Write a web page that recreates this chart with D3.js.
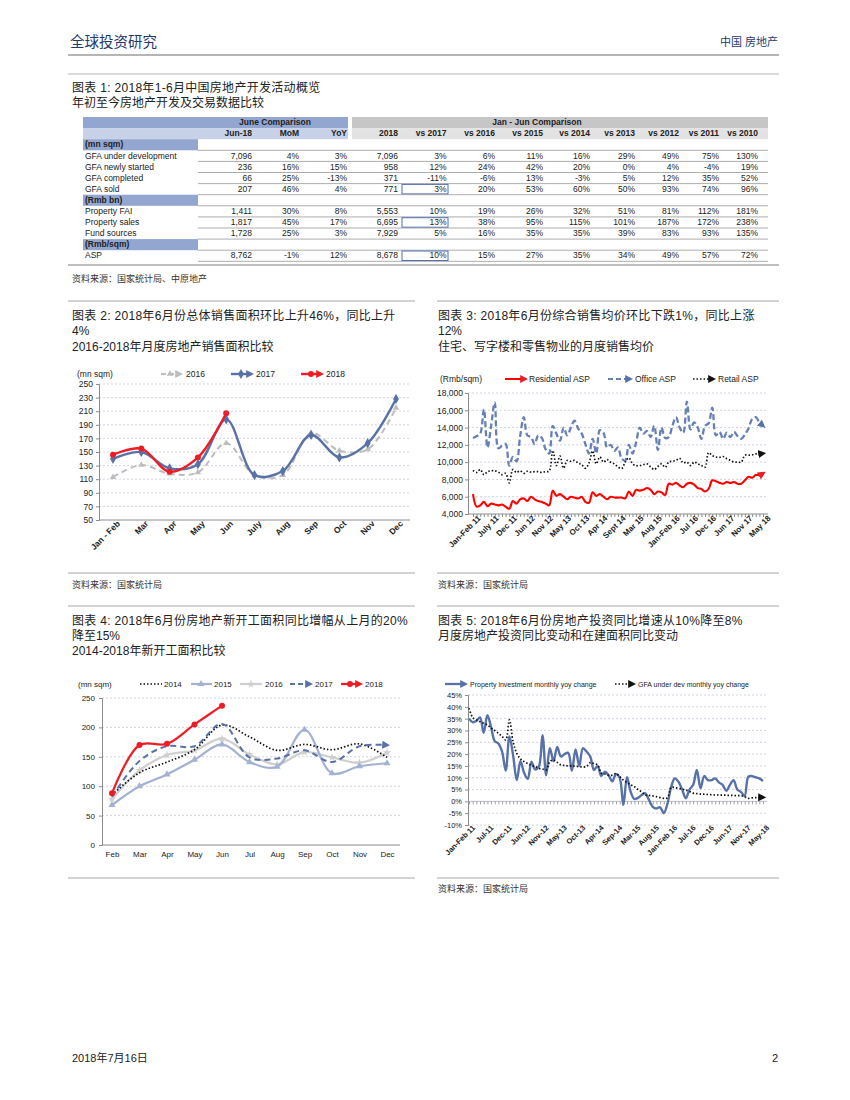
<!DOCTYPE html>
<html><head><meta charset="utf-8">
<script src="https://cdn.jsdelivr.net/npm/d3@7"></script>
<style>
body{margin:0;background:#fff;}
svg{display:block;font-family:"Liberation Sans",Arial,"Noto Sans CJK SC",sans-serif;}
</style></head><body>
<svg id="page" width="850" height="1100"></svg>
<script>
// ================= DATA =================
// Table (图表 1)
const junHeaders = ['Jun-18','MoM','YoY'];
const ytdHeaders = ['2018','vs 2017','vs 2016','vs 2015','vs 2014','vs 2013','vs 2012','vs 2011','vs 2010'];
const tableLabels = ['(mn sqm)','GFA under development','GFA newly started','GFA completed','GFA sold','(Rmb bn)','Property FAI','Property sales','Fund sources','(Rmb/sqm)','ASP'];
const sectionRows = ['(mn sqm)','(Rmb bn)','(Rmb/sqm)'];
const junValues = [null,['7,096','4%','3%'],['236','16%','15%'],['66','25%','-13%'],['207','46%','4%'],null,['1,411','30%','8%'],['1,817','45%','17%'],['1,728','25%','3%'],null,['8,762','-1%','12%']];
const ytdValues = [null,
 ['7,096','3%','6%','11%','16%','29%','49%','75%','130%'],
 ['958','12%','24%','42%','20%','0%','4%','-4%','19%'],
 ['371','-11%','-6%','13%','-3%','5%','12%','35%','52%'],
 ['771','3%','20%','53%','60%','50%','93%','74%','96%'],
 null,
 ['5,553','10%','19%','26%','32%','51%','81%','112%','181%'],
 ['6,695','13%','38%','95%','115%','101%','187%','172%','238%'],
 ['7,929','5%','16%','35%','35%','39%','83%','93%','135%'],
 null,
 ['8,678','10%','15%','27%','35%','34%','49%','57%','72%']];
const boxedRows = ['GFA sold','Property sales','ASP'];

// Chart 2
const months2 = ['Jan - Feb','Mar','Apr','May','Jun','July','Aug','Sep','Oct','Nov','Dec'];
const sales2016 = [113,131,118,120,163,116,116,178,152,154,215];
const sales2017 = [140,150,126,132,198,116,122,175,142,163,228];
const sales2018 = [146,155,121,142,207];
const ticks2 = [50,70,90,110,130,150,170,190,210,230,250];

// Chart 3 (Jan-Feb 11 ... May 18, 81 points)
const ticks3Labels = ['Jan-Feb 11','July 11','Dec 11','Jun 12','Nov 12','May 13','Oct 13','Apr 14','Sept 14','Mar 15','Aug 15','Jan-Feb 16','Jul 16','Dec 16','Jun 17','Nov 17','May 18'];
const resASP = [6300,4850,5000,5400,4900,5200,5100,5000,5100,4850,
 4600,5500,5200,5700,5800,5500,6000,5700,5500,5400,
 5200,5000,6700,6100,6300,6000,5700,6000,5900,5800,
 6000,5400,5300,6500,6100,6300,6000,5700,6000,5900,
 5900,5900,5800,6600,6100,6800,6700,6800,7000,6800,
 6300,6600,6500,6200,7500,7400,7600,7300,7100,7500,
 7600,7400,7000,6900,6600,6900,7900,7800,7600,7500,
 7700,7600,7700,7500,7500,7900,8300,8200,8500,8500,
 8700];
const officeASP = [12800,13000,13300,16100,11700,14200,16900,11600,11900,12100,
 9600,10600,10100,13000,15200,13100,12900,12100,13100,12800,
 11500,11000,14200,13300,12500,14000,13100,14000,14800,13900,
 13300,12100,11000,12700,11000,13700,13400,11700,12000,11300,
 11700,10400,10200,12000,11000,12300,14000,13300,13600,12900,
 14200,11400,14000,12800,12900,14200,15200,14000,13400,17000,
 13800,14600,14000,12700,14200,14500,16300,13100,13500,12700,
 13400,12900,13500,13000,12700,13200,13900,15000,15200,14600,
 14200];
const retailASP = [9050,8800,9150,8550,8900,9000,9000,8850,8550,8700,
 7600,9150,8800,9000,8700,8950,8850,8900,8900,8800,
 8900,8950,11350,9600,10700,9300,10200,10100,10200,9900,
 9700,9300,9900,11300,9800,10600,10000,10300,10000,9800,
 9450,9250,10000,10500,9800,9600,9600,9700,9800,9450,
 9150,9500,9800,9400,10000,10100,10200,10450,9900,10000,
 9600,10000,9800,9600,9400,11100,10750,10600,10550,10650,
 10400,10200,10000,10000,10000,10800,10800,10850,10950,10950,
 11000];
const ticks3 = [4000,6000,8000,10000,12000,14000,16000,18000];

// Chart 4
const months4 = ['Feb','Mar','Apr','May','Jun','Jul','Aug','Sep','Oct','Nov','Dec'];
const start2014 = [85,123,141,162,204,184,161,171,162,172,149];
const start2015 = [68,100,120,145,171,141,133,196,122,134,139];
const start2016 = [78,127,153,161,181,154,137,158,149,140,157];
const start2017 = [82,143,168,168,206,149,147,161,141,168,170];
const start2018 = [88,170,172,205,237];
const ticks4 = [0,50,100,150,200,250];

// Chart 5 (Jan-Feb 11 ... May 18, 81 points)
const ticks5Labels = ['Jan-Feb 11','Jul-11','Dec-11','Jun-12','Nov-12','May-13','Oct-13','Apr-14','Sep-14','Mar-15','Aug-15','Jan-Feb 16','Jul-16','Dec-16','Jun-17','Nov-17','May-18'];
const investYoy = [35,33.5,34,35.5,29,36.5,31.5,25.5,24.5,21,
 13,27.5,19.5,9,17,12,9.5,16.8,13.5,14.7,
 28,11,22.5,17,23,19,20,20.5,13,22,
 15,22.5,21,19,13.3,15,10.8,12.5,11,8.5,
 11.5,10,-1.5,10.2,4,1,1.5,2.7,3.4,0.5,
 -2.3,-3,-2.5,-5,-1,6,9.7,8.3,5,1.3,
 5,7,13.3,5.5,10.7,9,9,9.7,8,7,
 4.5,7,9,5,4,2.3,10.4,10.7,10.2,9.7,
 8.6];
const gfaYoy = [39.4,35.5,34.5,33.7,33,32.3,31,30,28.8,27.5,
 26,34.5,25.2,20.3,18,16.8,16,15.2,14.7,14,
 13.7,13.3,16.8,17.5,16.5,15.4,15.2,15,15,14.8,
 14.7,14.5,14.8,16.4,16,15.4,12,11.6,11,11.1,
 11.8,10.5,9,8,7,6.2,5,4,2.7,2.5,
 2.3,2,1.6,1.3,1.5,5.9,5.8,5.5,5.2,4.8,
 4.2,3.5,3.3,3.1,3,2.9,2.8,2.7,2.7,2.6,
 2.6,2.5,2.5,2.4,2.4,2,1.3,1.5,1.6,1.7,
 1.7];
const ticks5 = [-10,-5,0,5,10,15,20,25,30,35,40,45];

// ================= DRAWING =================
const svg = d3.select('#page');
svg.append('rect').attr('width',850).attr('height',1100).attr('fill','#fff');
const defs = svg.append('defs');
function arrowDef(id,color,size){
  defs.append('marker').attr('id',id).attr('viewBox','0 0 10 10').attr('refX',6).attr('refY',5)
    .attr('markerWidth',size).attr('markerHeight',size).attr('markerUnits','userSpaceOnUse').attr('orient','auto')
    .append('path').attr('d','M0,0L10,5L0,10z').attr('fill',color);
}
const RED='#ee1c25', BLUE='#5872a8', GRAY='#bdbdbd', LBLUE='#a4b2d2', LGRAY='#cfcfcf', GRID='#c3c9da';
arrowDef('aRed',RED,8); arrowDef('aBlue',BLUE,8); arrowDef('aBlk','#111',8); arrowDef('aGray',GRAY,8); arrowDef('aLBlue',LBLUE,7);

function txt(g,x,y,s,o={}){
  const t = g.append('text').attr('x',x).attr('y',y).text(s)
   .attr('font-size',o.size||12).attr('fill',o.fill||'#222')
   .attr('text-anchor',o.anchor||'start').attr('font-weight',o.weight||'normal');
  if(o.ls) t.attr('letter-spacing',o.ls);
  return t;
}
function hline(g,x1,x2,y,color,w,dash){
  const l=g.append('line').attr('x1',x1).attr('x2',x2).attr('y1',y).attr('y2',y).attr('stroke',color).attr('stroke-width',w);
  if(dash) l.attr('stroke-dasharray',dash);
  return l;
}

// ---- page furniture ----
const T = {size:12, ls:0.3};
txt(svg,70,47,'全球投资研究',{size:14.5,fill:'#1f3a6e'});
txt(svg,778,46,'中国 房地产',{size:11,fill:'#1f3a6e',anchor:'end'});
hline(svg,68,779,55,'#9c9c9c',1.3);
hline(svg,68,779,74,'#b5b5b5',1);
txt(svg,72,92,'图表 1: 2018年1-6月中国房地产开发活动概览',T);
txt(svg,72,107,'年初至今房地产开发及交易数据比较',{size:12});
hline(svg,68,779,265,'#a8a8a8',1.5);
txt(svg,72,282,'资料来源：国家统计局、中原地产',{size:9,fill:'#333'});

hline(svg,68,415,301,'#a8a8a8',1.2); hline(svg,437,779,301,'#a8a8a8',1.2);
txt(svg,72,320,'图表 2: 2018年6月份总体销售面积环比上升46%，同比上升',T);
txt(svg,72,335,'4%',{size:12});
txt(svg,72,351,'2016-2018年月度房地产销售面积比较',{size:12});
txt(svg,438,320,'图表 3: 2018年6月份综合销售均价环比下跌1%，同比上涨',T);
txt(svg,438,335,'12%',{size:12});
txt(svg,438,351,'住宅、写字楼和零售物业的月度销售均价',{size:12});
hline(svg,68,415,573,'#a8a8a8',1.2); hline(svg,437,779,573,'#a8a8a8',1.2);
txt(svg,72,588,'资料来源：国家统计局',{size:9,fill:'#333'});
txt(svg,438,588,'资料来源：国家统计局',{size:9,fill:'#333'});
hline(svg,68,415,606,'#a8a8a8',1.2); hline(svg,437,779,606,'#a8a8a8',1.2);
txt(svg,72,625,'图表 4: 2018年6月份房地产新开工面积同比增幅从上月的20%',T);
txt(svg,72,640,'降至15%',{size:12});
txt(svg,72,655,'2014-2018年新开工面积比较',{size:12});
txt(svg,438,625,'图表 5: 2018年6月份房地产投资同比增速从10%降至8%',T);
txt(svg,438,640,'月度房地产投资同比变动和在建面积同比变动',{size:12});
hline(svg,68,415,878,'#a8a8a8',1.2); hline(svg,437,779,878,'#a8a8a8',1.2);
txt(svg,438,892,'资料来源：国家统计局',{size:9,fill:'#333'});
txt(svg,72,1062,'2018年7月16日',{size:11});
txt(svg,778,1062,'2',{size:11,anchor:'end'});

// ---- Table ----
(function(){
  const g = svg.append('g');
  const x0=83, xLab=198, xJun=348, xYtd=352, x1=768, top=117, rh=11.1;
  const junRight=[252,299,347], ytdRight=[398,446.5,495,543,590,635,679,719,758];
  const FS=8.5;
  g.append('rect').attr('x',x0).attr('y',top).attr('width',xJun-x0).attr('height',rh).attr('fill','#93a6d0');
  g.append('rect').attr('x',x0).attr('y',top+rh).attr('width',xJun-x0).attr('height',rh).attr('fill','#c7d1e8');
  g.append('rect').attr('x',xYtd).attr('y',top).attr('width',x1-xYtd).attr('height',rh).attr('fill','#c6c6c6');
  g.append('rect').attr('x',xYtd).attr('y',top+rh).attr('width',x1-xYtd).attr('height',rh).attr('fill','#e3e3e3');
  txt(g,275,top+8.2,'June Comparison',{size:FS,weight:'bold',anchor:'middle'});
  txt(g,537,top+8.2,'Jan - Jun Comparison',{size:FS,weight:'bold',anchor:'middle'});
  junHeaders.forEach((h,i)=>txt(g,junRight[i],top+rh+8.2,h,{size:FS,weight:'bold',anchor:'end'}));
  ytdHeaders.forEach((h,i)=>txt(g,ytdRight[i],top+rh+8.2,h,{size:FS,weight:'bold',anchor:'end'}));
  tableLabels.forEach((lab,i)=>{
    const y = top+(i+2)*rh;
    if(sectionRows.includes(lab)){
      g.append('rect').attr('x',x0).attr('y',y).attr('width',xLab-x0).attr('height',rh).attr('fill','#93a6d0');
      txt(g,85,y+8.2,lab,{size:FS,weight:'bold'});
    } else {
      txt(g,85,y+8.2,lab,{size:FS});
      junValues[i].forEach((v,j)=>txt(g,junRight[j],y+8.2,v,{size:FS,anchor:'end'}));
      ytdValues[i].forEach((v,j)=>txt(g,ytdRight[j],y+8.2,v,{size:FS,anchor:'end'}));
      if(boxedRows.includes(lab)){
        g.append('rect').attr('x',402).attr('y',y+0.8).attr('width',46).attr('height',rh-1.6)
          .attr('fill','none').attr('stroke','#4f6fb3').attr('stroke-width',1);
      }
    }
    hline(g,xLab,x1,y+rh,'#8a8a8a',0.7);
  });
})();

function styleAxis(sel,fs){
  sel.selectAll('.domain').attr('stroke','#8c8c8c');
  sel.selectAll('.tick line').attr('stroke','#8c8c8c');
  sel.selectAll('text').attr('font-size',fs).attr('fill','#222').attr('font-family','"Liberation Sans",Arial,sans-serif');
}

// ---- Chart 2 ----
(function(){
  const g = svg.append('g');
  const x = d3.scalePoint().domain(months2).range([113,396]);
  const y = d3.scaleLinear().domain([50,250]).range([520,384]);
  ticks2.slice(1).forEach(t=>hline(g,99,410,y(t),GRID,0.8,'2,2'));
  const ya = g.append('g').attr('transform','translate(99,0)').call(d3.axisLeft(y).tickValues(ticks2).tickSize(3).tickPadding(3));
  styleAxis(ya,8.5);
  hline(g,99,410,520,'#8c8c8c',1);
  const xa = g.append('g').attr('transform','translate(0,520)').call(d3.axisBottom(x).tickSize(0));
  xa.select('.domain').remove();
  styleAxis(xa,8.5);
  xa.selectAll('text').attr('font-weight','bold').attr('text-anchor','end').attr('x',2).attr('y',5).attr('dy','0.35em').attr('transform','rotate(-45)');
  const line = d3.line().x((d,i)=>x(months2[i])).y(d=>y(d)).curve(d3.curveCatmullRom.alpha(0.5));
  g.append('path').attr('d',line(sales2016)).attr('fill','none').attr('stroke',GRAY).attr('stroke-width',2).attr('stroke-dasharray','6,4');
  g.selectAll('.m16').data(sales2016).enter().append('path').attr('transform',(d,i)=>`translate(${x(months2[i])},${y(d)})`)
    .attr('d',d3.symbol(d3.symbolTriangle,18)).attr('fill',GRAY);
  g.append('path').attr('d',line(sales2017)).attr('fill','none').attr('stroke',BLUE).attr('stroke-width',2.4);
  g.selectAll('.m17').data(sales2017).enter().append('path').attr('transform',(d,i)=>`translate(${x(months2[i])},${y(d)})`)
    .attr('d',d3.symbol(d3.symbolDiamond,30)).attr('fill',BLUE);
  g.append('path').attr('d',line(sales2018)).attr('fill','none').attr('stroke',RED).attr('stroke-width',2.4);
  g.selectAll('.m18').data(sales2018).enter().append('circle').attr('cx',(d,i)=>x(months2[i])).attr('cy',d=>y(d)).attr('r',3).attr('fill',RED);
  const ly=374;
  txt(g,77,377,'(mn sqm)',{size:8.5});
  g.append('line').attr('x1',161).attr('x2',180).attr('y1',ly).attr('y2',ly).attr('stroke',GRAY).attr('stroke-width',2).attr('stroke-dasharray','5,3').attr('marker-end','url(#aGray)');
  g.append('path').attr('transform',`translate(170,${ly})`).attr('d',d3.symbol(d3.symbolTriangle,18)).attr('fill',GRAY);
  txt(g,186,377,'2016',{size:8.5});
  g.append('line').attr('x1',231).attr('x2',251).attr('y1',ly).attr('y2',ly).attr('stroke',BLUE).attr('stroke-width',2.4).attr('marker-end','url(#aBlue)');
  g.append('path').attr('transform',`translate(241,${ly})`).attr('d',d3.symbol(d3.symbolDiamond,30)).attr('fill',BLUE);
  txt(g,256,377,'2017',{size:8.5});
  g.append('line').attr('x1',301).attr('x2',321).attr('y1',ly).attr('y2',ly).attr('stroke',RED).attr('stroke-width',2.4).attr('marker-end','url(#aRed)');
  g.append('circle').attr('cx',311).attr('cy',ly).attr('r',3).attr('fill',RED);
  txt(g,326,377,'2018',{size:8.5});
})();

// ---- Chart 3 ----
(function(){
  const g = svg.append('g');
  const idx = d3.range(resASP.length);
  const x = d3.scalePoint().domain(idx).range([473,763]);
  const y = d3.scaleLinear().domain([4000,18000]).range([514,393]);
  ticks3.slice(1).forEach(t=>hline(g,468,768,y(t),GRID,0.8,'2,2'));
  const ya = g.append('g').attr('transform','translate(468,0)').call(d3.axisLeft(y).tickValues(ticks3).tickFormat(d3.format(',')).tickSize(3).tickPadding(2));
  styleAxis(ya,8.5);
  hline(g,468,768,514,'#8c8c8c',1);
  const xm = g.append('g').attr('transform','translate(0,514)').call(d3.axisBottom(x).tickValues(idx).tickSize(3).tickFormat(''));
  xm.select('.domain').remove(); styleAxis(xm,8);
  const tickIdx = ticks3Labels.map((d,i)=>i*5);
  const xa = g.append('g').attr('transform','translate(0,514)').call(d3.axisBottom(x).tickValues(tickIdx).tickSize(0).tickFormat((d,i)=>ticks3Labels[i]));
  xa.select('.domain').remove(); styleAxis(xa,8);
  xa.selectAll('text').attr('font-weight','bold').attr('text-anchor','end').attr('x',2).attr('y',6).attr('dy','0.35em').attr('transform','rotate(-45)');
  const line = d3.line().x((d,i)=>x(i)).y(d=>y(d)).curve(d3.curveCatmullRom.alpha(0.5));
  g.append('path').attr('d',line(officeASP)).attr('fill','none').attr('stroke','#6680b6').attr('stroke-width',2.3).attr('stroke-dasharray','6,3').attr('marker-end','url(#aBlue)');
  g.append('path').attr('d',line(retailASP)).attr('fill','none').attr('stroke','#111').attr('stroke-width',1.7).attr('stroke-dasharray','1.5,2').attr('marker-end','url(#aBlk)');
  g.append('path').attr('d',line(resASP)).attr('fill','none').attr('stroke','#ff0000').attr('stroke-width',2.1).attr('marker-end','url(#aRed)');
  const ly=379;
  txt(g,440,382,'(Rmb/sqm)',{size:8.5});
  g.append('line').attr('x1',505).attr('x2',525).attr('y1',ly).attr('y2',ly).attr('stroke','#ff0000').attr('stroke-width',2).attr('marker-end','url(#aRed)');
  txt(g,529,382,'Residential ASP',{size:8.5});
  g.append('line').attr('x1',608).attr('x2',630).attr('y1',ly).attr('y2',ly).attr('stroke','#6680b6').attr('stroke-width',2.2).attr('stroke-dasharray','5,3').attr('marker-end','url(#aBlue)');
  txt(g,635,382,'Office ASP',{size:8.5});
  g.append('line').attr('x1',693).attr('x2',713).attr('y1',ly).attr('y2',ly).attr('stroke','#111').attr('stroke-width',1.6).attr('stroke-dasharray','1.5,2').attr('marker-end','url(#aBlk)');
  txt(g,718,382,'Retail ASP',{size:8.5});
})();

// ---- Chart 4 ----
(function(){
  const g = svg.append('g');
  const x = d3.scalePoint().domain(months4).range([112,387]);
  const y = d3.scaleLinear().domain([0,250]).range([845,698]);
  ticks4.slice(1).forEach(t=>hline(g,102,400,y(t),GRID,0.8,'2,2'));
  const ya = g.append('g').attr('transform','translate(102,0)').call(d3.axisLeft(y).tickValues(ticks4).tickSize(3).tickPadding(4));
  styleAxis(ya,8);
  hline(g,102,400,845,'#8c8c8c',1);
  const xa = g.append('g').attr('transform','translate(0,845)').call(d3.axisBottom(x).tickSize(0).tickPadding(6));
  xa.select('.domain').remove(); styleAxis(xa,8);
  const line = d3.line().x((d,i)=>x(months4[i])).y(d=>y(d)).curve(d3.curveCatmullRom.alpha(0.5));
  g.append('path').attr('d',line(start2016)).attr('fill','none').attr('stroke',LGRAY).attr('stroke-width',2.2);
  g.selectAll('.s16').data(start2016).enter().append('path').attr('transform',(d,i)=>`translate(${x(months4[i])},${y(d)})`)
    .attr('d',d3.symbol(d3.symbolStar,22)).attr('fill',LGRAY);
  g.append('path').attr('d',line(start2015)).attr('fill','none').attr('stroke',LBLUE).attr('stroke-width',2.2);
  g.selectAll('.s15').data(start2015).enter().append('path').attr('transform',(d,i)=>`translate(${x(months4[i])},${y(d)})`)
    .attr('d',d3.symbol(d3.symbolTriangle,22)).attr('fill',LBLUE);
  g.append('path').attr('d',line(start2014)).attr('fill','none').attr('stroke','#111').attr('stroke-width',1.7).attr('stroke-dasharray','1.5,2');
  g.append('path').attr('d',line(start2017)).attr('fill','none').attr('stroke',BLUE).attr('stroke-width',2).attr('stroke-dasharray','6,4').attr('marker-end','url(#aBlue)');
  g.append('path').attr('d',line(start2018)).attr('fill','none').attr('stroke',RED).attr('stroke-width',2.2);
  g.selectAll('.s18').data(start2018).enter().append('circle').attr('cx',(d,i)=>x(months4[i])).attr('cy',d=>y(d)).attr('r',3).attr('fill',RED);
  const ly=684;
  txt(g,78,687,'(mn sqm)',{size:8});
  g.append('line').attr('x1',140).attr('x2',162).attr('y1',ly).attr('y2',ly).attr('stroke','#111').attr('stroke-width',1.7).attr('stroke-dasharray','1.5,2');
  txt(g,164,687,'2014',{size:8});
  g.append('line').attr('x1',191).attr('x2',212).attr('y1',ly).attr('y2',ly).attr('stroke',LBLUE).attr('stroke-width',2.2);
  g.append('path').attr('transform',`translate(201,${ly})`).attr('d',d3.symbol(d3.symbolTriangle,22)).attr('fill',LBLUE);
  txt(g,214,687,'2015',{size:8});
  g.append('line').attr('x1',240).attr('x2',262).attr('y1',ly).attr('y2',ly).attr('stroke',LGRAY).attr('stroke-width',2.2);
  g.append('path').attr('transform',`translate(251,${ly})`).attr('d',d3.symbol(d3.symbolStar,22)).attr('fill',LGRAY);
  txt(g,265,687,'2016',{size:8});
  g.append('line').attr('x1',290).attr('x2',310).attr('y1',ly).attr('y2',ly).attr('stroke',BLUE).attr('stroke-width',2).attr('stroke-dasharray','5,3').attr('marker-end','url(#aBlue)');
  txt(g,315,687,'2017',{size:8});
  g.append('line').attr('x1',341).attr('x2',360).attr('y1',ly).attr('y2',ly).attr('stroke',RED).attr('stroke-width',2.2).attr('marker-end','url(#aRed)');
  g.append('circle').attr('cx',350).attr('cy',ly).attr('r',3).attr('fill',RED);
  txt(g,365,687,'2018',{size:8});
})();

// ---- Chart 5 ----
(function(){
  const g = svg.append('g');
  const idx = d3.range(investYoy.length);
  const x = d3.scalePoint().domain(idx).range([469,763]);
  const y = d3.scaleLinear().domain([-10,45]).range([825,695]);
  ticks5.forEach(t=>{ if(t!==0) hline(g,468,767,y(t),GRID,0.8,'2,2'); });
  const ya = g.append('g').attr('transform','translate(468,0)').call(d3.axisLeft(y).tickValues(ticks5).tickFormat(d=>d+'%').tickSize(3).tickPadding(3));
  styleAxis(ya,7.5);
  hline(g,468,767,y(0),'#b0b5c4',0.9);
  const xm = g.append('g').attr('transform',`translate(0,${y(0)})`).call(d3.axisBottom(x).tickValues(idx).tickSize(3).tickFormat(''));
  xm.select('.domain').remove(); styleAxis(xm,7);
  xm.selectAll('.tick line').attr('stroke','#a0a0a0');
  const tickIdx = ticks5Labels.map((d,i)=>i*5);
  const xa = g.append('g').attr('transform','translate(0,825)').call(d3.axisBottom(x).tickValues(tickIdx).tickSize(0).tickFormat((d,i)=>ticks5Labels[i]));
  xa.select('.domain').remove(); styleAxis(xa,7.5);
  xa.selectAll('text').attr('font-weight','bold').attr('text-anchor','end').attr('x',2).attr('y',4).attr('dy','0.35em').attr('transform','rotate(-45)');
  const line = d3.line().x((d,i)=>x(i)).y(d=>y(d)).curve(d3.curveCatmullRom.alpha(0.5));
  g.append('path').attr('d',line(investYoy)).attr('fill','none').attr('stroke',BLUE).attr('stroke-width',2.4);
  g.append('path').attr('d',line(gfaYoy)).attr('fill','none').attr('stroke','#111').attr('stroke-width',1.7).attr('stroke-dasharray','1.5,2').attr('marker-end','url(#aBlk)');
  const ly=684;
  g.append('line').attr('x1',445).attr('x2',465).attr('y1',ly).attr('y2',ly).attr('stroke',BLUE).attr('stroke-width',2.3).attr('marker-end','url(#aBlue)');
  txt(g,470,686.5,'Property investment monthly yoy change',{size:7});
  g.append('line').attr('x1',615).attr('x2',633).attr('y1',ly).attr('y2',ly).attr('stroke','#111').attr('stroke-width',1.7).attr('stroke-dasharray','1.5,2').attr('marker-end','url(#aBlk)');
  txt(g,638,686.5,'GFA under dev monthly yoy change',{size:7});
})();
</script></body></html>
